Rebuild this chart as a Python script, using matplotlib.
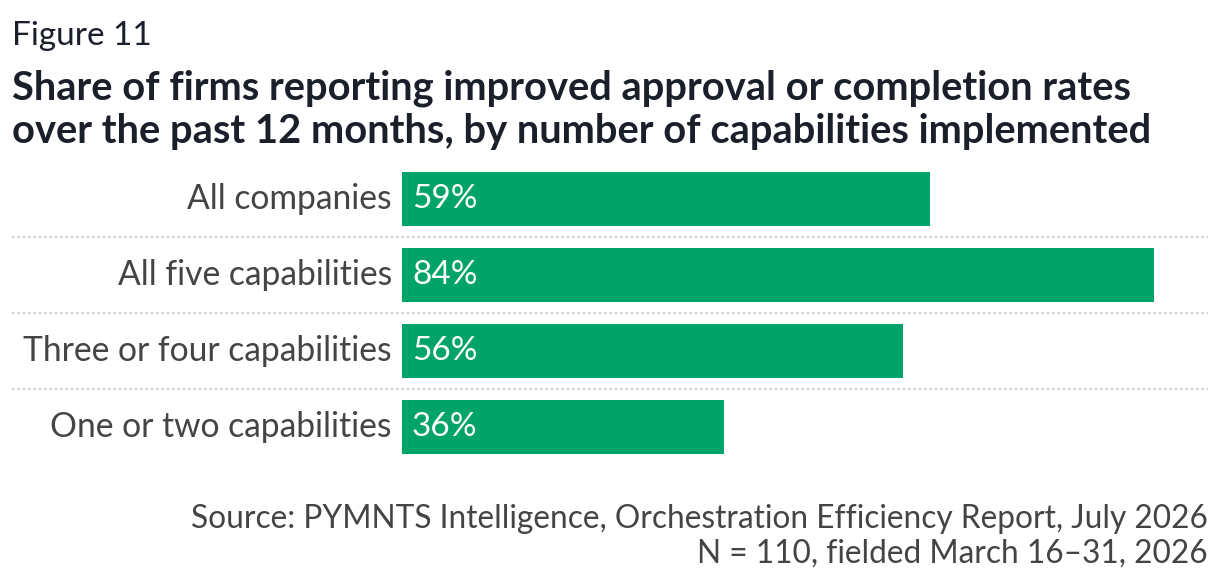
import matplotlib
matplotlib.use("Agg")
import matplotlib.pyplot as plt

# Data
categories = ["All companies", "All five capabilities",
              "Three or four capabilities", "One or two capabilities"]
values = [59, 84, 56, 36]

fig_label = "Figure 11"
title = ("Share of firms reporting improved approval or completion rates\n"
         "over the past 12 months, by number of capabilities implemented")
source = ("Source: PYMNTS Intelligence, Orchestration Efficiency Report, July 2026\n"
          "N = 110, fielded March 16\u201331, 2026")

GREEN = "#00a469"
LABEL_GRAY = "#444444"
TITLE_DARK = "#1b1f2a"

W, H = 1220, 582
plt.rcParams["font.family"] = ["Lato", "DejaVu Sans"]

fig = plt.figure(figsize=(W / 100, H / 100), dpi=100)

# axes in pixel terms
left_px, right_px = 402, 1208
top_px, bottom_px = 161, 465
ax = fig.add_axes([left_px / W, 1 - bottom_px / H,
                   (right_px - left_px) / W, (bottom_px - top_px) / H])

px_per_pct = 8.95
ax.set_xlim(0, (right_px - left_px) / px_per_pct)
ax.set_ylim(len(categories) - 0.5, -0.5)

ypos = list(range(len(categories)))
ax.barh(ypos, values, height=0.71, color=GREEN)

for y, v, c in zip(ypos, values, categories):
    ax.text(10 / px_per_pct, y, f"{v}%", color="white", fontsize=24,
            va="center", ha="left")
    ax.text(-10 / px_per_pct, y, c, color=LABEL_GRAY, fontsize=24.2,
            va="center", ha="right", clip_on=False)

# dotted separators between rows
xmin = (12 - left_px) / (right_px - left_px)
for y in [0.5, 1.5, 2.5]:
    ax.axhline(y, xmin=xmin, xmax=1, color="#d4d4d4", lw=1.6,
               ls=(0, (1.2, 1.2)), clip_on=False)

ax.axis("off")

# header (multi-line baseline anchors the last line)
fig.text(12 / W, 1 - 45 / H, fig_label, fontsize=24, color=TITLE_DARK,
         ha="left", va="baseline")
fig.text(12 / W, 1 - 143 / H, title, fontsize=28.7, fontweight="bold",
         color=TITLE_DARK, ha="left", va="baseline", linespacing=1.2)

# footer
fig.text(1208 / W, 1 - 563 / H, source, fontsize=22.8, color=LABEL_GRAY,
         ha="right", va="baseline", linespacing=1.2)

fig.savefig("out.png", dpi=100)
